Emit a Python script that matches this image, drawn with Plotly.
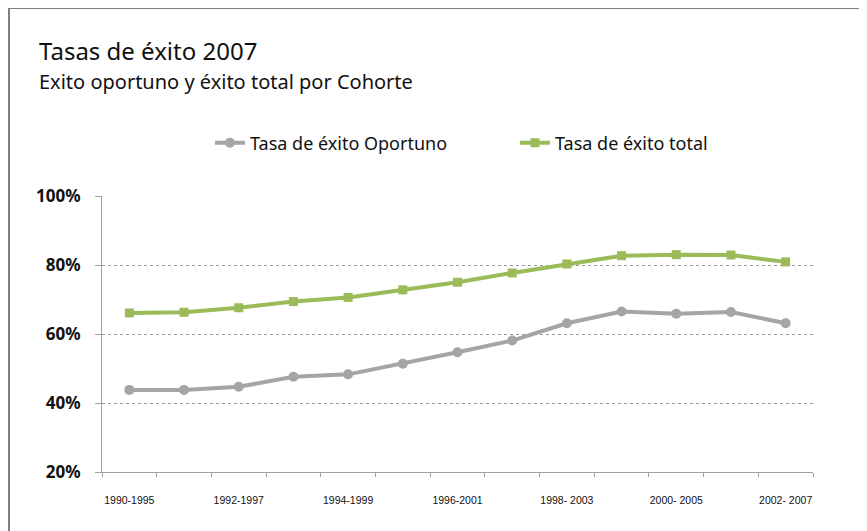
import plotly.graph_objects as go

cohortes = ["1990-1995", "1991-1996", "1992-1997", "1993-1998", "1994-1999", "1995-2000",
            "1996-2001", "1997-2002", "1998-2003", "1999-2004", "2000-2005", "2001-2006", "2002-2007"]
etiquetas_x = ["1990-1995", "", "1992-1997", "", "1994-1999", "", "1996-2001", "",
               "1998- 2003", "", "2000- 2005", "", "2002- 2007"]
exito_oportuno = [43.8, 43.8, 44.7, 47.6, 48.3, 51.4, 54.7, 58.1, 63.1, 66.5, 65.9, 66.4, 63.1]
exito_total = [66.1, 66.3, 67.6, 69.4, 70.6, 72.8, 75.0, 77.7, 80.3, 82.7, 83.0, 82.9, 80.9]
y_ticks = [0.2, 0.4, 0.6, 0.8, 1.0]

GRAY = "#A5A5A5"
GREEN = "#9BBB59"
FONT = "Noto Sans, sans-serif"

fig = go.Figure()
fig.add_trace(go.Scatter(
    x=cohortes, y=[v / 100 for v in exito_oportuno], name="Tasa de éxito Oportuno",
    mode="lines+markers", line=dict(color=GRAY, width=4),
    marker=dict(symbol="circle", size=10, color=GRAY)))
fig.add_trace(go.Scatter(
    x=cohortes, y=[v / 100 for v in exito_total], name="Tasa de éxito total",
    mode="lines+markers", line=dict(color=GREEN, width=4),
    marker=dict(symbol="square", size=9, color=GREEN)))

# the page body has an 8px margin; figure coords = screen coords - 8
OFF = 8
W, H = 867 - OFF, 531 - OFF
L, T = 102 - OFF, 196 - OFF
R, B = W - (813 - OFF), H - (472 - OFF)
pw, ph = W - L - R, H - T - B

def px(x):
    return (x - OFF - L) / pw

def py(y):
    return (H - B - (y - OFF)) / ph

fig.update_layout(
    width=W, height=H,
    margin=dict(l=L, r=R, t=T, b=B, autoexpand=False),
    paper_bgcolor="white", plot_bgcolor="white",
    font=dict(family=FONT, color="#111"),
    showlegend=True,
    legend=dict(orientation="h", x=px(210), y=py(143), xanchor="left", yanchor="middle",
                font=dict(size=18, family=FONT, color="#111"), entrywidth=260,
                bgcolor="rgba(0,0,0,0)"),
    xaxis=dict(type="category", range=[-0.5, 12.5], tickson="boundaries",
               tickmode="array", tickvals=cohortes, ticktext=etiquetas_x, tickangle=0,
               ticks="outside", ticklen=4, tickcolor="#A0A0A0", automargin=False,
               showline=True, linecolor="#A0A0A0", linewidth=1,
               showgrid=False, ticklabelstandoff=18,
               tickfont=dict(family="Liberation Sans, Arial", size=10.5, color="#111")),
    yaxis=dict(range=[0.2, 1.0], tickmode="array", tickvals=y_ticks, tickformat=".0%",
               ticks="outside", ticklen=6, tickcolor="#A0A0A0", automargin=False,
               showline=True, linecolor="#A0A0A0", linewidth=1,
               showgrid=True, gridcolor="#999999", gridwidth=1, griddash="3px,3px",
               zeroline=False, ticklabelstandoff=11,
               tickfont=dict(family=FONT, size=17, color="#111", weight="bold")),
    shapes=[
        dict(type="line", xref="paper", yref="paper", x0=px(9), x1=px(900), y0=py(8), y1=py(8),
             line=dict(color="#808080", width=2)),
        dict(type="line", xref="paper", yref="paper", x0=px(9), x1=px(9), y0=py(8), y1=py(560),
             line=dict(color="#808080", width=2)),
    ],
    annotations=[
        dict(text="Tasas de éxito 2007", xref="paper", yref="paper", x=px(37), y=py(50),
             xanchor="left", yanchor="middle", showarrow=False,
             font=dict(family=FONT, size=24, color="#111")),
        dict(text="Exito oportuno y éxito total por Cohorte", xref="paper", yref="paper",
             x=px(37), y=py(82), xanchor="left", yanchor="middle", showarrow=False,
             font=dict(family=FONT, size=20, color="#111")),
    ],
)

fig.write_html("out.html")
